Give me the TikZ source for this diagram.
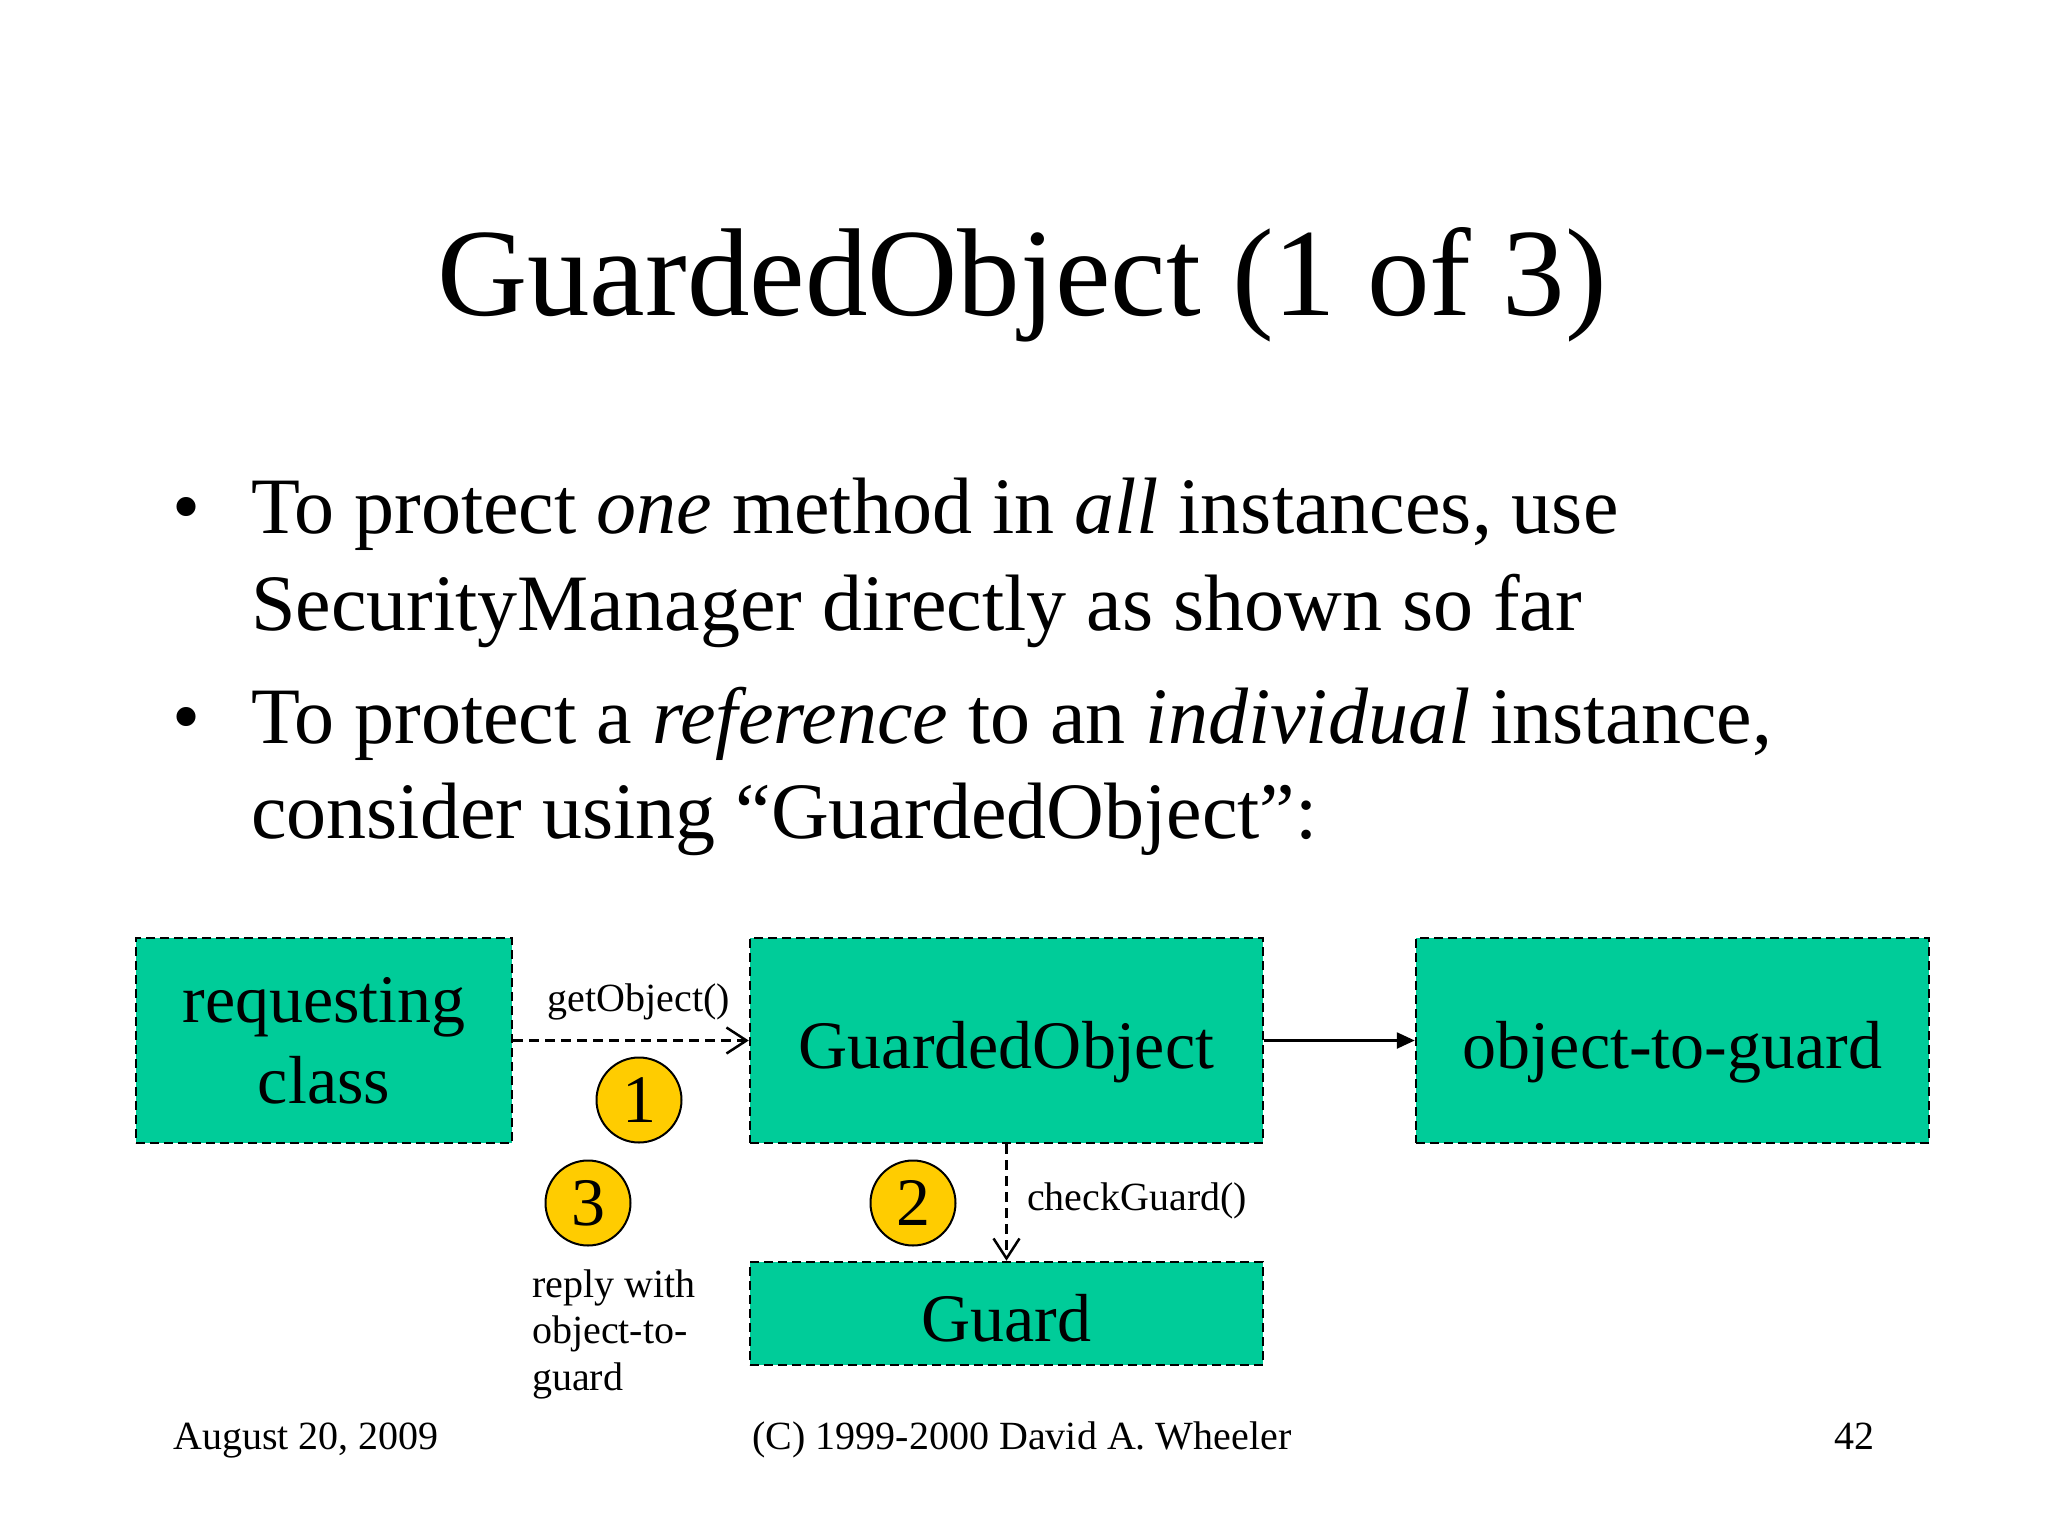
\documentclass[tikz,border=0pt]{standalone}
\usepackage{fontspec}
\setmainfont{Liberation Serif}
\usetikzlibrary{arrows.meta}
\definecolor{boxgreen}{RGB}{0,204,153}
\definecolor{numyellow}{RGB}{255,204,0}
\begin{document}
\begin{tikzpicture}[x=1pt,y=-1pt,
  box/.style={draw=black, fill=boxgreen, line width=2.5pt, dash pattern=on 9pt off 5pt, inner sep=0pt, font=\fontsize{68pt}{81pt}\selectfont, align=center},
  onebox/.style={box, text height=55pt, text depth=0pt},
  num/.style={circle, draw=black, line width=2pt, fill=numyellow, minimum size=85pt, inner sep=0pt, font=\fontsize{68pt}{68pt}\selectfont},
  small/.style={font=\fontsize{40pt}{47pt}\selectfont, inner sep=0pt},
  body/.style={font=\fontsize{80pt}{97pt}\selectfont, inner sep=0pt, anchor=base west},
  callarrow/.style={line width=2.5pt, dash pattern=on 10pt off 6pt, -{Straight Barb[length=20pt,width=26pt]}},
  refarrow/.style={line width=2.5pt, -{Triangle[length=18pt,width=16pt]}}
]
\useasboundingbox[fill=white] (0,0) rectangle (2048,1536);

% title
\node[font=\fontsize{125pt}{130pt}\selectfont, anchor=base, inner sep=0pt] (title) at (1022,315) {GuardedObject (1 of 3)};

% bullets
\node[font=\fontsize{80pt}{97pt}\selectfont, anchor=base, inner sep=0pt] (dot1) at (187,533) {•};
\node[body] (b1a) at (251,533) {To protect \textit{one} method in \textit{all} instances, use};
\node[body] (b1b) at (251,630) {SecurityManager directly as shown so far};
\node[font=\fontsize{80pt}{97pt}\selectfont, anchor=base, inner sep=0pt] (dot2) at (187,743) {•};
\node[body] (b2a) at (251,743) {To protect a \textit{reference} to an \textit{individual} instance,};
\node[body] (b2b) at (251,838) {consider using “GuardedObject”:};

% boxes
\node[box, minimum width=376pt, minimum height=205pt] (req) at (324,1040.5) {requesting\\class};
\node[onebox, minimum width=513pt, minimum height=205pt] (go) at (1006.5,1040.5) {GuardedObject};
\node[onebox, minimum width=513pt, minimum height=205pt] (otg) at (1672.5,1040.5) {object-to-guard};
\node[onebox, minimum width=513pt, minimum height=103pt] (guard) at (1006.5,1313.5) {Guard};

% connectors
\draw[callarrow] (req.east) -- (go.west);
\draw[refarrow] (go.east) -- (otg.west);
\draw[callarrow] (go.south) -- (guard.north);

% labels
\node[small, anchor=base] (getlbl) at (639,1011) {getObject()};
\node[small, anchor=base west] (checklbl) at (1027,1210) {checkGuard()};
\node[small, anchor=base west] (reply1) at (532,1297) {reply with};
\node[small, anchor=base west] (reply2) at (532,1343) {object-to-};
\node[small, anchor=base west] (reply3) at (532,1390) {guard};

% step numbers
\node[num] (n1) at (639,1100) {1};
\node[num] (n3) at (588,1203) {3};
\node[num] (n2) at (913,1203) {2};

% footer
\node[small, anchor=base west] (date) at (173,1449) {August 20, 2009};
\node[small, anchor=base] (copy) at (1022,1449) {(C) 1999-2000 David A. Wheeler};
\node[small, anchor=base east] (page) at (1875,1449) {42};
\end{tikzpicture}
\end{document}
